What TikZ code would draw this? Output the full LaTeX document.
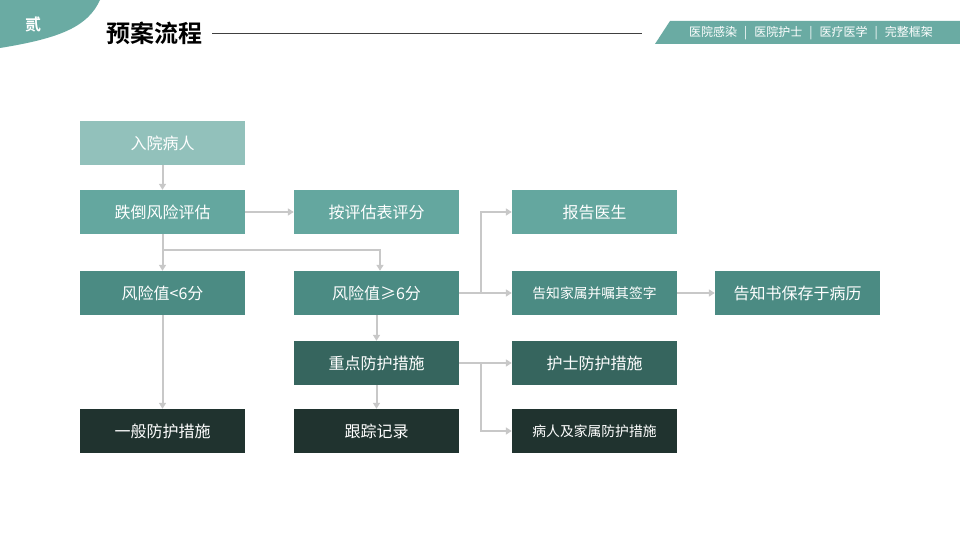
\documentclass[tikz,border=0pt]{standalone}
\usepackage{fontspec}
\setmainfont{Noto Sans CJK SC}
\newfontfamily\cjkbold{Noto Sans CJK SC Bold}
\usetikzlibrary{arrows.meta}
\definecolor{cA}{HTML}{92C1BB}
\definecolor{cB}{HTML}{64A79F}
\definecolor{cC}{HTML}{4B8B83}
\definecolor{cD}{HTML}{36655E}
\definecolor{cE}{HTML}{20332F}
\definecolor{teal}{HTML}{6AABA3}
\definecolor{conn}{HTML}{C8C8C8}
\newcommand{\tagsep}{\hspace{7pt}|\hspace{7pt}}
\tikzset{
  box/.style={minimum width=165pt, minimum height=44pt, inner sep=0pt, text=white, font=\fontsize{16}{18}\selectfont},
  smallbox/.style={box, font=\fontsize{13.8}{16}\selectfont},
  conline/.style={draw=conn, line width=2pt, -{Triangle[length=6pt,width=7pt]}},
}
\begin{document}
\begin{tikzpicture}[x=1pt,y=-1pt]
\useasboundingbox (0,0) rectangle (960,540);
\fill[white] (0,0) rectangle (960,540);
% header
\fill[teal] (0,0) -- (100,0) .. controls (88,26) and (62,38) .. (0,48) -- cycle;
\node[text=white, font=\cjkbold\fontsize{16}{18}\selectfont] (num) at (33,24) {贰};
\node[font=\cjkbold\fontsize{24}{26}\selectfont, anchor=west, inner sep=0pt] (title) at (106,33) {预案流程};
\coordinate (ls) at (212,33);
\coordinate (le) at (642,33);
\draw[line width=0.8pt, black!75] (ls) -- (le);
\fill[teal] (655,44) -- (670,21) -- (960,21) -- (960,44) -- cycle;
\node[text=white, font=\fontsize{12}{14}\selectfont] (tags) at (811,33) {医院感染\tagsep 医院护士\tagsep 医疗医学\tagsep 完整框架};
% boxes
\node[box, fill=cA] (a1) at (162.5,143) {入院病人};
\node[box, fill=cB] (b1) at (162.5,212) {跌倒风险评估};
\node[box, fill=cB] (b2) at (376.5,212) {按评估表评分};
\node[box, fill=cB] (b3) at (594.5,212) {报告医生};
\node[box, fill=cC] (c1) at (162.5,293) {风险值<6分};
\node[box, fill=cC] (c2) at (376.5,293) {风险值≥6分};
\node[smallbox, fill=cC] (c3) at (594.5,293) {告知家属并嘱其签字};
\node[box, fill=cC] (c4) at (797.5,293) {告知书保存于病历};
\node[box, fill=cD] (d2) at (376.5,363) {重点防护措施};
\node[box, fill=cD] (d3) at (594.5,363) {护士防护措施};
\node[box, fill=cE] (e1) at (162.5,431) {一般防护措施};
\node[box, fill=cE] (e2) at (376.5,431) {跟踪记录};
\node[smallbox, fill=cE] (e3) at (594.5,431) {病人及家属防护措施};
% connectors
\draw[conline] (a1) -- (b1);
\draw[conline] (b1) -- (b2);
\draw[conline] (b1) -- (c1);
\coordinate (j1) at (162.5,250);
\draw[conline] (j1) -| ([xshift=3.5pt]c2.north);
\draw[conline] (c2) -- (c3);
\coordinate (j2) at (481,293);
\draw[conline] (j2) |- (b3.west);
\draw[conline] (c3) -- (c4);
\draw[conline] (c1) -- (e1);
\draw[conline] (c2) -- (d2);
\draw[conline] (d2) -- (e2);
\draw[conline] (d2) -- (d3);
\coordinate (j3) at (481,363);
\draw[conline] (j3) |- (e3.west);
\end{tikzpicture}
\end{document}
